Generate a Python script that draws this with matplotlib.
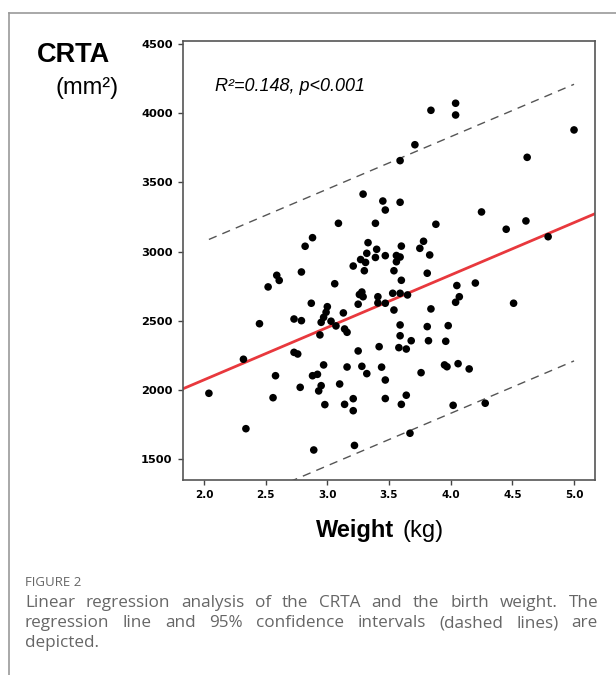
# Grafico de dispersion CRTA vs peso al nacer, con recta de regresion
import numpy as np
import matplotlib.pyplot as plt
from matplotlib.lines import Line2D

# datos
peso = [3.29, 3.45, 3.47, 3.09, 3.39, 2.88, 2.82, 3.33, 3.40, 3.32,
        3.47, 3.39, 3.27, 3.31, 3.21, 3.30, 2.79, 2.59, 2.61, 3.06,
        2.52, 3.84, 4.04, 4.04, 3.71, 3.59, 5.00, 4.62, 3.59, 4.25,
        3.88, 4.45, 4.61, 4.79, 3.78, 3.60, 3.75, 3.56, 3.59, 3.56,
        3.83, 3.54, 3.81, 3.60, 4.05, 4.20, 3.28, 3.26, 3.29, 3.41,
        2.87, 3.25, 3.41, 3.47, 3.00, 2.99, 2.97, 3.13, 2.73, 2.79,
        2.95, 3.03, 3.07, 2.45, 3.14, 3.16, 2.94, 2.73, 2.76, 3.25,
        3.42, 2.32, 2.97, 3.16, 3.28, 3.32, 3.44, 2.88, 2.92, 2.58,
        3.47, 2.95, 2.93, 2.78, 3.10, 2.56, 3.21, 3.47, 2.04, 2.98,
        3.14, 3.21, 2.34, 3.22, 2.89, 3.53, 3.59, 3.65, 4.07, 4.04,
        4.51, 3.54, 3.84, 3.59, 3.81, 3.98, 3.59, 3.68, 3.82, 3.96,
        3.58, 3.64, 3.95, 3.97, 4.06, 4.15, 3.76, 3.64, 3.60, 4.02,
        4.28, 3.67]
crta = [3415, 3365, 3300, 3204, 3204, 3100, 3038, 3064, 3016, 2987,
        2970, 2957, 2942, 2921, 2895, 2861, 2852, 2828, 2791, 2767,
        2744, 4021, 4072, 3987, 3772, 3657, 3879, 3681, 3356, 3286,
        3197, 3161, 3221, 3107, 3074, 3039, 3023, 2971, 2960, 2926,
        2975, 2861, 2843, 2792, 2754, 2772, 2707, 2689, 2673, 2673,
        2626, 2619, 2628, 2626, 2601, 2561, 2524, 2556, 2512, 2500,
        2488, 2496, 2462, 2478, 2440, 2416, 2397, 2271, 2259, 2281,
        2312, 2221, 2180, 2165, 2170, 2117, 2164, 2102, 2112, 2102,
        2071, 2030, 1992, 2018, 2042, 1943, 1936, 1937, 1975, 1893,
        1895, 1849, 1719, 1598, 1565, 2698, 2698, 2686, 2673, 2633,
        2626, 2577, 2585, 2469, 2457, 2464, 2391, 2355, 2355, 2351,
        2305, 2295, 2180, 2167, 2189, 2151, 2124, 1961, 1895, 1888,
        1903, 1686]

# recta de regresion y banda del 95%
intercepto = 1314
pendiente = 379
banda = 1000

x_ticks = [2.0, 2.5, 3.0, 3.5, 4.0, 4.5, 5.0]
y_ticks = [1500, 2000, 2500, 3000, 3500, 4000, 4500]

peso = np.array(peso)
crta = np.array(crta)

fig = plt.figure(figsize=(6.16, 6.75), dpi=100)
ax = fig.add_axes([183 / 616, 1 - 480 / 675, 412 / 616, 439 / 675])

ax.scatter(peso, crta, s=30, color='black', edgecolors='none', zorder=3)

# recta roja sobre todo el eje
xr = np.array([1.83, 5.17])
ax.plot(xr, intercepto + pendiente * xr, color='#e8383d', lw=2.0, zorder=2)

# lineas discontinuas del intervalo
xd = np.array([peso.min(), peso.max()])
for signo in (1, -1):
    ax.plot(xd, intercepto + pendiente * xd + signo * banda, color='#555555',
            lw=1.0, linestyle=(0, (6, 4.5)), zorder=1)

ax.set_xlim(1.83, 5.17)
ax.set_ylim(1348, 4522)
ax.set_xticks(x_ticks)
ax.set_yticks(y_ticks)
ax.set_xticklabels(['%.1f' % v for v in x_ticks])
ax.set_yticklabels([str(v) for v in y_ticks])
for lab in ax.get_xticklabels():
    lab.set_fontfamily('DejaVu Sans')
    lab.set_fontweight('bold')
    lab.set_fontsize(7.5)
for lab in ax.get_yticklabels():
    lab.set_fontfamily('DejaVu Sans')
    lab.set_fontweight('bold')
    lab.set_fontsize(8.2)
ax.tick_params(direction='out', length=3.5, width=1.0, color='#444444', pad=4)
for sp in ax.spines.values():
    sp.set_color('#555555')
    sp.set_linewidth(1.2)

ax.text(0.078, 0.887, 'R²=0.148, p<0.001', transform=ax.transAxes,
        fontsize=13, style='italic', family='Liberation Sans', va='baseline')

# etiquetas de los ejes
fig.text(74 / 616, 1 - 55 / 675, 'CRTA', fontsize=19.5, fontweight='bold',
         family='Liberation Sans', ha='center', va='center')
fig.text(87 / 616, 1 - 88 / 675, '(mm²)', fontsize=17,
         family='Liberation Sans', ha='center', va='center')
fig.text(355 / 616, 1 - 537 / 675, 'Weight', fontsize=17, fontweight='bold',
         family='Liberation Sans', ha='center', va='baseline')
fig.text(403 / 616, 1 - 537 / 675, '(kg)', fontsize=17,
         family='Liberation Sans', ha='left', va='baseline')

# marco de la figura (arriba e izquierda)
fig.add_artist(Line2D([9 / 616, 1], [1 - 13 / 675, 1 - 13 / 675],
                      transform=fig.transFigure, color='#999999', lw=1.2))
fig.add_artist(Line2D([9 / 616, 9 / 616], [0, 1 - 13 / 675],
                      transform=fig.transFigure, color='#999999', lw=1.2))

# pie de figura
gris = '#666666'
fig.text(25 / 616, 1 - 586 / 675, 'FIGURE 2', fontsize=9.5, color=gris,
         family='Open Sans', va='baseline')

lineas = ['Linear regression analysis of the CRTA and the birth weight. The',
          'regression line and 95% confidence intervals (dashed lines) are',
          'depicted.']
bases = [607, 627, 647]
x0, x1 = 25, 598
render = fig.canvas.get_renderer()
for i, (linea, yb) in enumerate(zip(lineas, bases)):
    palabras = linea.split(' ')
    textos = [fig.text(0, 1 - yb / 675, p, fontsize=12.3, color=gris,
                       family='Open Sans', va='baseline') for p in palabras]
    anchos = [t.get_window_extent(render).width for t in textos]
    if i < len(lineas) - 1 and len(palabras) > 1:
        hueco = (x1 - x0 - sum(anchos)) / (len(palabras) - 1)
    else:
        hueco = 4
    x = x0
    for t, w in zip(textos, anchos):
        t.set_x(x / 616)
        x += w + hueco

fig.savefig('out.png', dpi=100)
